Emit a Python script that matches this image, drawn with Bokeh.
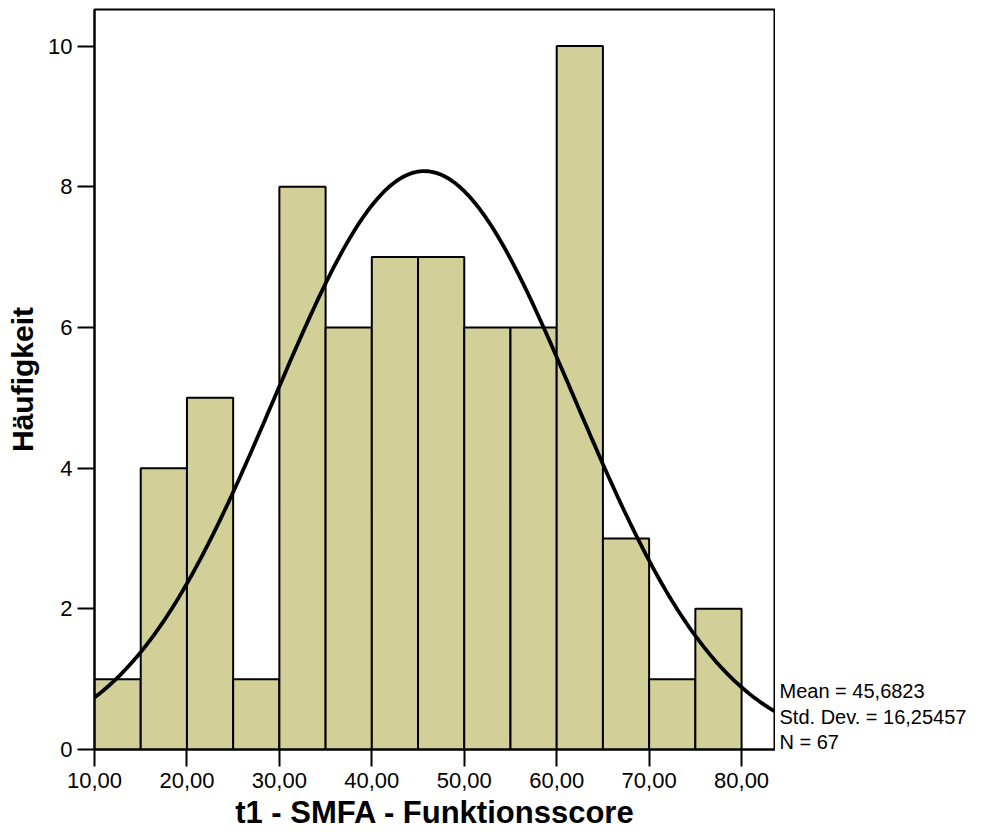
import numpy as np
from bokeh.plotting import figure
from bokeh.layouts import row
from bokeh.models import FixedTicker, Range1d
from bokeh.core.properties import value
from bokeh.embed import file_html
from bokeh.resources import INLINE

bin_left = [10, 15, 20, 25, 30, 35, 40, 45, 50, 55, 60, 65, 70, 75]
bin_right = [15, 20, 25, 30, 35, 40, 45, 50, 55, 60, 65, 70, 75, 80]
counts = [1, 4, 5, 1, 8, 6, 7, 7, 6, 6, 10, 3, 1, 2]
mean = 45.6823
std = 16.25457
n = 67
bin_width = 5
x_ticks = [10, 20, 30, 40, 50, 60, 70, 80]
x_tick_labels = ["10,00", "20,00", "30,00", "40,00", "50,00", "60,00", "70,00", "80,00"]
y_ticks = [0, 2, 4, 6, 8, 10]
stat_lines = ["Mean = 45,6823", "Std. Dev. = 16,25457", "N = 67"]
stat_y = [0.83, 0.465, 0.11]

FONT = "Liberation Sans"
x_end = 83.67
yr = Range1d(0, 10.52)

p = figure(width=775, height=840, output_backend="svg", toolbar_location=None,
           x_range=Range1d(10, x_end), y_range=yr,
           min_border_left=94, min_border_right=0, min_border_top=9, min_border_bottom=91)
p.background_fill_color = "white"
p.border_fill_color = "white"
p.outline_line_color = "black"
p.outline_line_width = 2
p.xgrid.visible = False
p.ygrid.visible = False

p.quad(left=bin_left, right=bin_right, bottom=0, top=counts,
       fill_color="#d3cf99", line_color="black", line_width=2)

xs = np.linspace(10, x_end, 300)
ys = n * bin_width * np.exp(-0.5 * ((xs - mean) / std) ** 2) / (std * np.sqrt(2 * np.pi))
p.line(xs, ys, line_color="black", line_width=3.8)

for ax in (p.xaxis[0], p.yaxis[0]):
    ax.axis_line_width = 2
    ax.axis_line_color = "black"
    ax.major_tick_line_width = 2
    ax.major_tick_line_color = "black"
    ax.major_tick_out = 17
    ax.major_tick_in = 0
    ax.minor_tick_line_color = None
    ax.major_label_text_font = FONT
    ax.major_label_text_font_size = "22px"
    ax.major_label_text_color = "black"
    ax.axis_label_text_font = FONT
    ax.axis_label_text_font_style = "bold"
    ax.axis_label_text_color = "black"

p.xaxis.ticker = FixedTicker(ticks=x_ticks)
p.xaxis.major_label_overrides = {t: l for t, l in zip(x_ticks, x_tick_labels)}
p.xaxis.major_label_standoff = 6
p.xaxis.axis_label = "t1 - SMFA - Funktionsscore"
p.xaxis.axis_label_text_font_size = "31px"
p.xaxis.axis_label_standoff = 4

p.yaxis.ticker = FixedTicker(ticks=y_ticks)
p.yaxis.major_label_standoff = 5
p.yaxis.axis_label = "Häufigkeit"
p.yaxis.axis_label_text_font_size = "30px"
p.yaxis.axis_label_standoff = 6

# side panel for the statistics text, sharing the y range
s = figure(width=224, height=840, output_backend="svg", toolbar_location=None,
           x_range=Range1d(0, 1), y_range=yr,
           min_border_left=0, min_border_right=0, min_border_top=9, min_border_bottom=91)
s.axis.visible = False
s.grid.visible = False
s.outline_line_color = None
s.background_fill_color = "white"
s.border_fill_color = "white"
s.text(x=[0, 0, 0], y=stat_y, text=stat_lines, x_offset=4,
       text_font=value(FONT), text_font_size="20px", text_color="black",
       text_baseline="middle", text_align="left")

layout = row(p, s, spacing=0)
open("out.html", "w").write(file_html(layout, INLINE))
